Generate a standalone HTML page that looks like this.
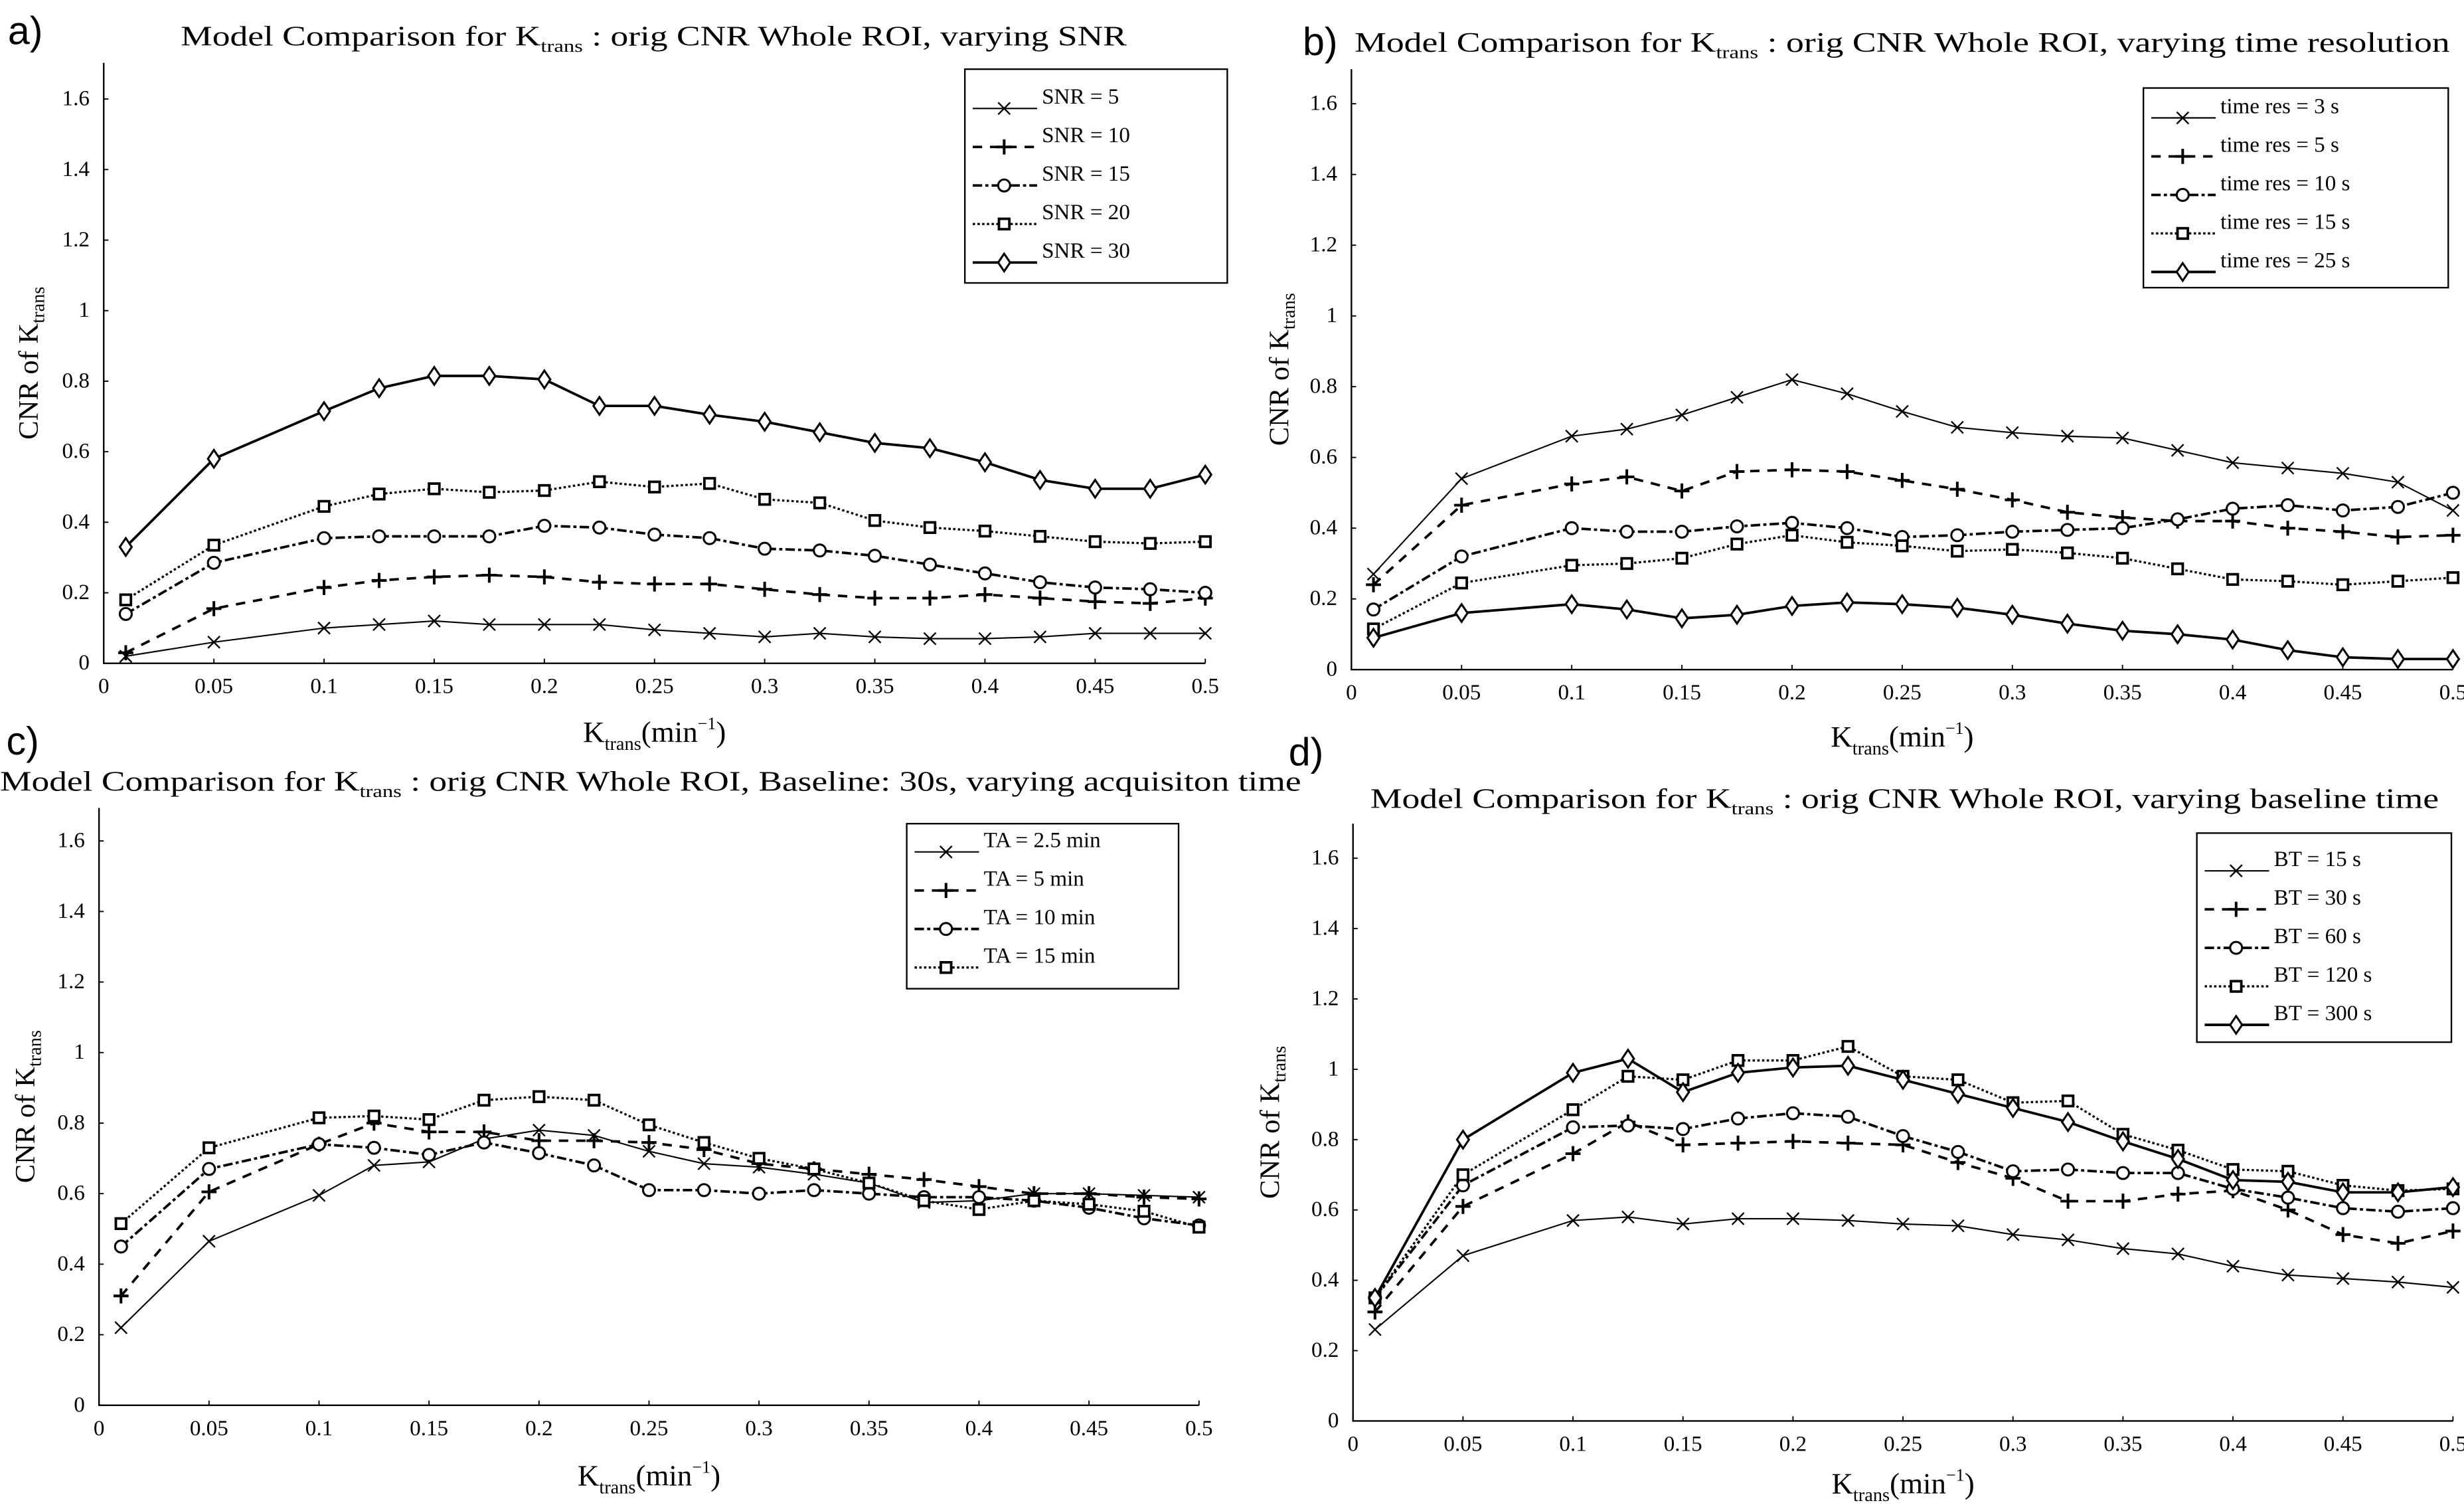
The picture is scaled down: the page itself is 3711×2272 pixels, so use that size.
<!DOCTYPE html>
<html><head><meta charset="utf-8"><style>
html,body{margin:0;padding:0;background:#fff;}
svg{display:block;}
text{font-family:"Liberation Serif",serif;fill:#000;}
.pl{font-family:"Liberation Sans",sans-serif;}
</style></head><body>
<svg id="fig" width="3711" height="2272" viewBox="0 0 1568 960" xmlns="http://www.w3.org/2000/svg"></svg>
<script>
const xVals=[0.01,0.05,0.1,0.125,0.15,0.175,0.2,0.225,0.25,0.275,0.3,0.325,0.35,0.375,0.4,0.425,0.45,0.475,0.5];
const xTicks=[0,0.05,0.1,0.15,0.2,0.25,0.3,0.35,0.4,0.45,0.5];
const yTicks=[0,0.2,0.4,0.6,0.8,1,1.2,1.4,1.6];
const aLabels=["SNR = 5","SNR = 10","SNR =  15","SNR =  20","SNR = 30"];
const aS1=[0.02,0.06,0.1,0.11,0.12,0.11,0.11,0.11,0.095,0.085,0.075,0.085,0.075,0.07,0.07,0.075,0.085,0.085,0.085];
const aS2=[0.03,0.155,0.215,0.235,0.245,0.25,0.245,0.23,0.225,0.225,0.21,0.195,0.185,0.185,0.195,0.185,0.175,0.17,0.185];
const aS3=[0.14,0.285,0.355,0.36,0.36,0.36,0.39,0.385,0.365,0.355,0.325,0.32,0.305,0.28,0.255,0.23,0.215,0.21,0.2];
const aS4=[0.18,0.335,0.445,0.48,0.495,0.485,0.49,0.515,0.5,0.51,0.465,0.455,0.405,0.385,0.375,0.36,0.345,0.34,0.345];
const aS5=[0.33,0.58,0.715,0.78,0.815,0.815,0.805,0.73,0.73,0.705,0.685,0.655,0.625,0.61,0.57,0.52,0.495,0.495,0.535];
const bLabels=["time res  =  3 s","time res  =  5 s","time res  =  10 s","time res =  15 s","time res = 25 s"];
const bS1=[0.27,0.54,0.66,0.68,0.72,0.77,0.82,0.78,0.73,0.685,0.67,0.66,0.655,0.62,0.585,0.57,0.555,0.53,0.45];
const bS2=[0.24,0.465,0.525,0.545,0.505,0.56,0.565,0.56,0.535,0.51,0.48,0.445,0.43,0.42,0.42,0.40,0.39,0.375,0.38];
const bS3=[0.17,0.32,0.40,0.39,0.39,0.405,0.415,0.40,0.375,0.38,0.39,0.395,0.40,0.425,0.455,0.465,0.45,0.46,0.50];
const bS4=[0.115,0.245,0.295,0.30,0.315,0.355,0.38,0.36,0.35,0.335,0.34,0.33,0.315,0.285,0.255,0.25,0.24,0.25,0.26];
const bS5=[0.09,0.16,0.185,0.17,0.145,0.155,0.18,0.19,0.185,0.175,0.155,0.13,0.11,0.10,0.085,0.055,0.035,0.03,0.03];
const cLabels=["TA  =  2.5 min","TA  =  5 min","TA  =  10 min","TA =  15 min"];
const cS1=[0.22,0.465,0.595,0.68,0.69,0.755,0.78,0.765,0.72,0.685,0.675,0.655,0.63,0.575,0.58,0.6,0.6,0.595,0.59];
const cS2=[0.31,0.605,0.74,0.80,0.775,0.775,0.75,0.75,0.745,0.725,0.685,0.67,0.655,0.64,0.62,0.60,0.60,0.59,0.585];
const cS3=[0.45,0.67,0.74,0.73,0.71,0.745,0.715,0.68,0.61,0.61,0.60,0.61,0.60,0.59,0.59,0.58,0.56,0.53,0.51];
const cS4=[0.515,0.73,0.815,0.82,0.81,0.865,0.875,0.865,0.795,0.745,0.70,0.67,0.63,0.58,0.555,0.58,0.57,0.55,0.505];
const dLabels=["BT  =  15 s","BT  =  30 s","BT  =  60 s","BT =  120 s","BT = 300 s"];
const dS1=[0.26,0.47,0.57,0.58,0.56,0.575,0.575,0.57,0.56,0.555,0.53,0.515,0.49,0.475,0.44,0.415,0.405,0.395,0.38];
const dS2=[0.31,0.61,0.76,0.85,0.785,0.79,0.795,0.79,0.785,0.735,0.69,0.625,0.625,0.645,0.655,0.60,0.53,0.505,0.54];
const dS3=[0.35,0.67,0.835,0.84,0.83,0.86,0.875,0.865,0.81,0.765,0.71,0.715,0.705,0.705,0.66,0.635,0.605,0.595,0.605];
const dS4=[0.35,0.70,0.885,0.98,0.97,1.025,1.025,1.065,0.98,0.97,0.905,0.91,0.815,0.77,0.715,0.71,0.67,0.655,0.66];
const dS5=[0.35,0.80,0.99,1.03,0.935,0.99,1.005,1.01,0.97,0.93,0.89,0.85,0.795,0.745,0.685,0.68,0.65,0.65,0.665];

const NS="http://www.w3.org/2000/svg";
const svg=document.getElementById('fig');
function mk(tag,attrs,parent){const e=document.createElementNS(NS,tag);for(const k in attrs)e.setAttribute(k,attrs[k]);(parent||svg).appendChild(e);return e;}
const styles=[
 {w:0.9,dash:"",m:"x"},
 {w:1.6,dash:"6,5",m:"+"},
 {w:1.6,dash:"6,2,2,2",m:"o"},
 {w:1.4,dash:"1.5,1.5",m:"s"},
 {w:1.6,dash:"",m:"d"}];
function marker(g,type,x,y){
 const r=3.8;let e;
 if(type==="x"){e=mk('path',{d:`M${x-r} ${y-r}L${x+r} ${y+r}M${x-r} ${y+r}L${x+r} ${y-r}`,stroke:'#000','stroke-width':1,fill:'none'},g);}
 else if(type==="+"){e=mk('path',{d:`M${x-4.8} ${y}L${x+4.8} ${y}M${x} ${y-4.8}L${x} ${y+4.8}`,stroke:'#000','stroke-width':1.7,fill:'none'},g);}
 else if(type==="o"){e=mk('circle',{cx:x,cy:y,r:3.8,stroke:'#000','stroke-width':1.3,fill:'#fff'},g);}
 else if(type==="s"){e=mk('rect',{x:x-3.3,y:y-3.3,width:6.6,height:6.6,stroke:'#000','stroke-width':1.6,fill:'#fff'},g);}
 else {e=mk('path',{d:`M${x} ${y-5.6}L${x+3.8} ${y}L${x} ${y+5.6}L${x-3.8} ${y}Z`,stroke:'#000','stroke-width':1.3,fill:'#fff'},g);}
 return e;
}
function panel(cfg){
 const g=mk('g',{});
 
 
 const xs=v=>cfg.x0+(v/0.5)*(cfg.x1-cfg.x0);
 const ys=v=>cfg.y0-(v/1.6)*(cfg.y0-cfg.y16);
 const ax=mk('path',{d:`M${cfg.x0} ${cfg.top}L${cfg.x0} ${cfg.y0}L${cfg.x1} ${cfg.y0}`,stroke:'#000','stroke-width':1,fill:'none'},g);
 
 
 xTicks.forEach(t=>{
  mk('line',{x1:xs(t),x2:xs(t),y1:cfg.y0,y2:cfg.y0-3,stroke:'#000','stroke-width':0.8},g);
  const tx=mk('text',{x:xs(t),y:cfg.y0+19,'font-size':14,'text-anchor':'middle'},g);
  tx.textContent=String(t);
  
  
 });
 yTicks.forEach(t=>{
  mk('line',{x1:cfg.x0,x2:cfg.x0+3,y1:ys(t),y2:ys(t),stroke:'#000','stroke-width':0.8},g);
  const tx=mk('text',{x:cfg.x0-9,y:ys(t)+4,'font-size':14,'text-anchor':'end'},g);
  tx.textContent=String(t);
  
  
 });
 cfg.series.forEach((s,i)=>{
  const st=styles[i];
  const sg=mk('g',{},g);
  
  
  const d=s.map((v,j)=>(j?'L':'M')+xs(xVals[j]).toFixed(2)+' '+ys(v).toFixed(2)).join('');
  const p=mk('path',{d:d,stroke:'#000','stroke-width':st.w,fill:'none','stroke-dasharray':st.dash},sg);
  
  
  s.forEach((v,j)=>{const m=marker(sg,st.m,xs(xVals[j]),ys(v));
   
   });
 });
 const L=cfg.leg;
 const lg=mk('g',{},g);
 
 
 mk('rect',{x:L.x,y:L.y,width:L.w,height:L.h,fill:'#fff',stroke:'#000','stroke-width':1},lg);
 cfg.labels.forEach((lab,i)=>{
  const st=styles[i];const yy=L.y+L.first+i*L.step;
  const e=mk('g',{},lg);
  
  
  mk('line',{x1:L.x+5,x2:L.x+46,y1:yy+3,y2:yy+3,stroke:'#000','stroke-width':st.w,'stroke-dasharray':st.dash},e);
  marker(e,st.m,L.x+25,yy+3);
  const t=mk('text',{x:L.x+49,y:yy,'font-size':14},e);
  t.textContent=lab;
 });
 const tt=mk('text',{x:cfg.tx,y:cfg.ty,'font-size':18,textLength:cfg.tl,lengthAdjust:'spacingAndGlyphs'},g);
 
 
 tt.innerHTML='Model Comparison for K<tspan font-size="11" dy="4">trans</tspan><tspan dy="-4"> : orig CNR Whole ROI, '+cfg.title+'</tspan>';
 const pl=mk('text',{x:cfg.lx,y:cfg.ly,'font-size':25,class:'pl'},g);
 pl.textContent=cfg.letter;
 
 
 const xl=mk('text',{x:(cfg.x0+cfg.x1)/2,y:cfg.xly,'font-size':19,'text-anchor':'middle'},g);
 xl.innerHTML='K<tspan font-size="12" dy="5">trans</tspan><tspan dy="-5">(min</tspan><tspan font-size="11" dy="-8">−1</tspan><tspan dy="8">)</tspan>';
 
 
 const yc=(cfg.top+cfg.y0)/2;
 const yl=mk('text',{x:0,y:0,'font-size':18,'text-anchor':'middle',transform:`translate(${cfg.ylx},${yc}) rotate(-90)`},g);
 yl.innerHTML='CNR of K<tspan font-size="12" dy="4">trans</tspan>';
 
 
}
panel({name:'panel-a',letter:'a)',lx:5,ly:28,x0:66,x1:767,y0:422,y16:63,top:40,tx:115,ty:29,tl:602,title:'varying SNR',xly:472,ylx:24,
 series:[aS1,aS2,aS3,aS4,aS5],labels:aLabels,leg:{x:614,y:44,w:167,h:136,first:22,step:24.5}});
panel({name:'panel-b',letter:'b)',lx:829,ly:35,x0:860,x1:1561,y0:426,y16:66,top:44,tx:862,ty:33,tl:697,title:'varying time resolution',xly:475,ylx:820,
 series:[bS1,bS2,bS3,bS4,bS5],labels:bLabels,leg:{x:1364,y:56,w:194,h:127,first:16,step:24.5}});
panel({name:'panel-c',letter:'c)',lx:4,ly:480,x0:63,x1:763,y0:894,y16:535,top:514,tx:0,ty:503,tl:828,title:'Baseline: 30s, varying acquisiton time',xly:945,ylx:22,
 series:[cS1,cS2,cS3,cS4],labels:cLabels,leg:{x:577,y:524,w:173,h:105,first:15,step:24.5}});
panel({name:'panel-d',letter:'d)',lx:820,ly:487,x0:861,x1:1561,y0:904,y16:546,top:524,tx:872,ty:514,tl:680,title:'varying baseline time',xly:950,ylx:814,
 series:[dS1,dS2,dS3,dS4,dS5],labels:dLabels,leg:{x:1398,y:530,w:162,h:133,first:21,step:24.5}});
</script>
</body></html>
